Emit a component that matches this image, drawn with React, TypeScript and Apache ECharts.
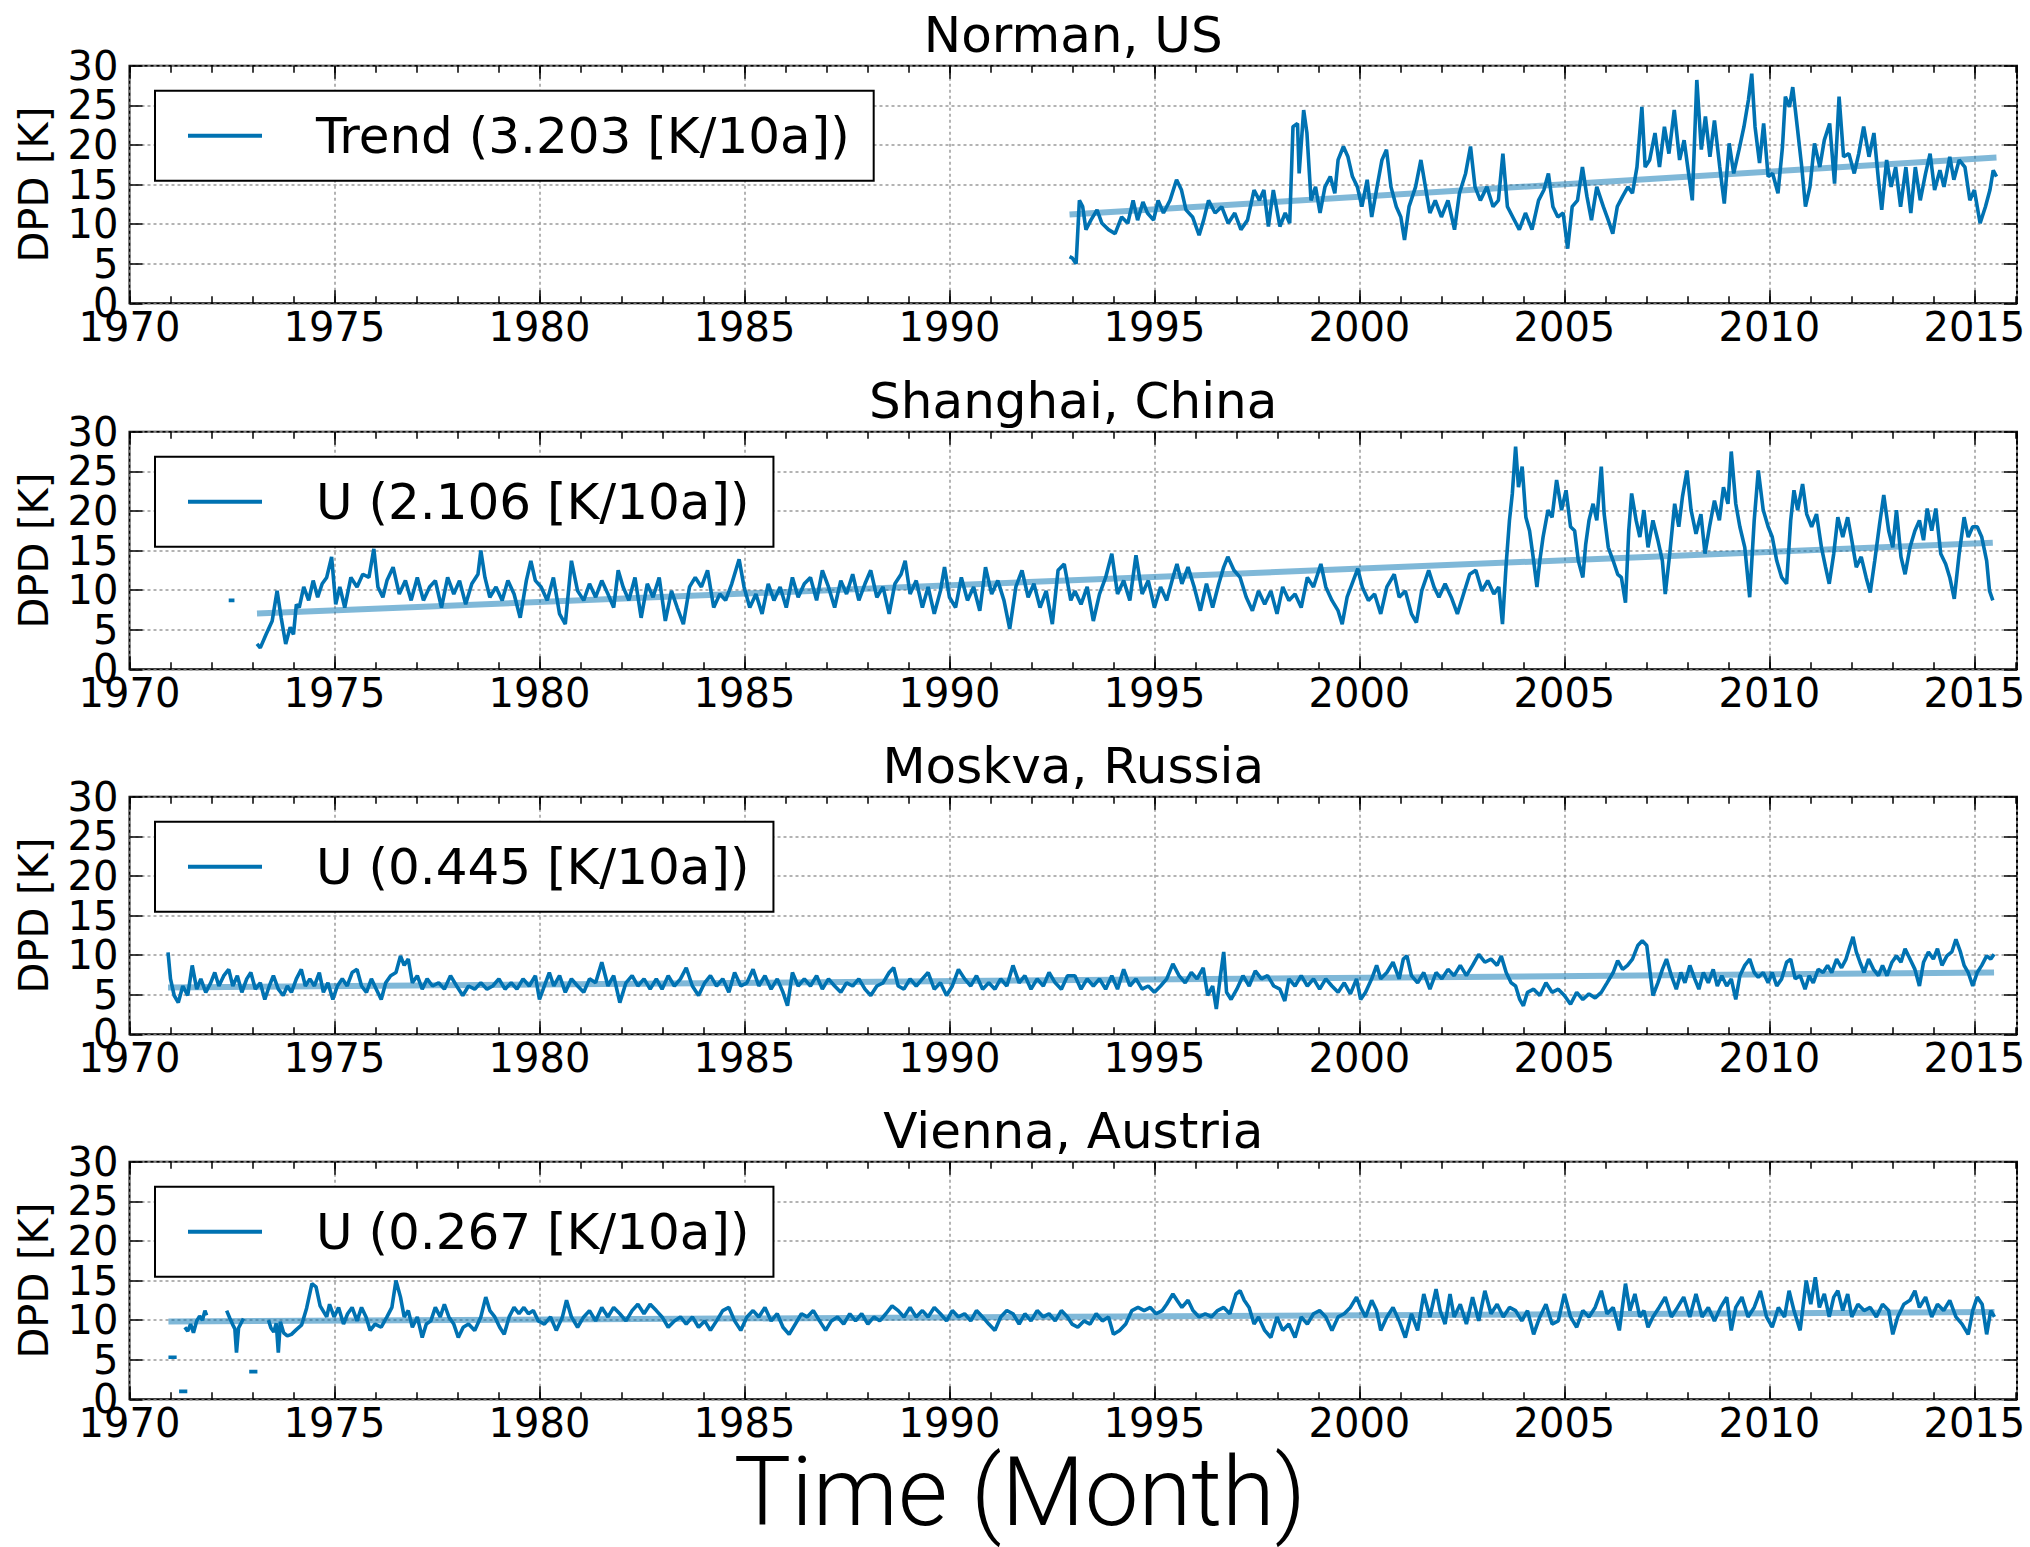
import React, { useEffect, useRef } from 'react';
import * as echarts from 'echarts';

type Pt = [number, number | null];

// ---------------- data (year, DPD [K]) ----------------
const stationTitles = ['Norman, US', 'Shanghai, China', 'Moskva, Russia', 'Vienna, Austria'];
const legendLabels = ['Trend (3.203 [K/10a])', 'U (2.106 [K/10a])', 'U (0.445 [K/10a])', 'U (0.267 [K/10a])'];
const xTickYears = [1970, 1975, 1980, 1985, 1990, 1995, 2000, 2005, 2010, 2015];
const yTickValues = [0, 5, 10, 15, 20, 25, 30];

const normanDPD: Pt[] = [
  [1992.93,5.9],[1993.0,5.7],[1993.09,5.0],[1993.17,13.0],[1993.25,12.2],[1993.33,9.3],[1993.45,10.5],[1993.6,11.8],[1993.72,10.1],[1993.88,9.3],[1994.04,8.8],[1994.2,10.9],[1994.35,10.1],[1994.48,13.0],[1994.59,10.5],[1994.72,12.8],[1994.83,11.4],[1994.98,10.5],[1995.09,13.0],[1995.22,11.4],[1995.38,13.0],[1995.54,15.6],[1995.66,14.3],[1995.77,11.8],[1995.93,10.9],[1996.09,8.6],[1996.2,10.5],[1996.32,13.0],[1996.48,11.4],[1996.64,12.2],[1996.8,10.1],[1996.96,11.4],[1997.11,9.3],[1997.27,10.5],[1997.43,14.3],[1997.56,13.0],[1997.67,14.3],[1997.78,9.7],[1997.9,14.3],[1998.06,9.7],[1998.19,11.4],[1998.3,10.1],[1998.38,22.3],[1998.49,22.7],[1998.53,16.4],[1998.64,24.4],[1998.72,21.5],[1998.82,13.0],[1998.93,14.7],[1999.04,11.4],[1999.16,14.7],[1999.29,16.0],[1999.4,13.9],[1999.48,18.1],[1999.61,19.8],[1999.72,18.5],[1999.83,16.0],[1999.95,14.7],[2000.06,12.2],[2000.19,15.6],[2000.3,10.9],[2000.43,14.7],[2000.55,18.1],[2000.66,19.4],[2000.77,14.7],[2000.9,12.2],[2001.01,10.9],[2001.1,8.0],[2001.21,12.2],[2001.37,14.7],[2001.5,18.1],[2001.61,14.7],[2001.72,11.4],[2001.85,13.0],[2002.0,10.9],[2002.16,13.0],[2002.32,9.3],[2002.44,13.9],[2002.59,16.4],[2002.71,19.8],[2002.82,14.7],[2002.95,13.0],[2003.11,14.7],[2003.26,12.2],[2003.39,13.0],[2003.5,18.9],[2003.61,12.2],[2003.74,10.9],[2003.9,9.3],[2004.05,11.4],[2004.21,9.3],[2004.37,13.0],[2004.5,14.3],[2004.61,16.4],[2004.72,12.2],[2004.84,10.9],[2004.97,11.4],[2005.08,6.9],[2005.19,12.2],[2005.32,13.0],[2005.44,17.2],[2005.55,13.5],[2005.66,10.5],[2005.79,14.7],[2005.95,12.2],[2006.07,10.5],[2006.18,8.8],[2006.29,12.2],[2006.42,13.5],[2006.55,14.7],[2006.66,13.9],[2006.77,17.2],[2006.89,24.8],[2006.97,17.2],[2007.08,18.1],[2007.21,21.5],[2007.32,17.2],[2007.44,22.3],[2007.55,18.9],[2007.68,24.4],[2007.81,18.1],[2007.92,20.6],[2008.03,16.4],[2008.12,13.0],[2008.23,28.2],[2008.34,19.4],[2008.44,23.6],[2008.55,18.5],[2008.66,23.1],[2008.79,17.2],[2008.9,12.6],[2009.02,20.2],[2009.13,16.4],[2009.26,19.4],[2009.38,22.3],[2009.49,25.7],[2009.57,29.0],[2009.65,22.3],[2009.76,17.7],[2009.86,22.7],[2009.97,16.0],[2010.08,16.4],[2010.21,13.9],[2010.32,19.8],[2010.39,26.1],[2010.49,24.8],[2010.57,27.3],[2010.68,22.3],[2010.79,17.2],[2010.88,12.2],[2010.99,14.7],[2011.1,20.2],[2011.23,17.2],[2011.34,20.6],[2011.47,22.7],[2011.59,15.1],[2011.7,26.1],[2011.81,18.5],[2011.94,18.9],[2012.07,16.4],[2012.18,18.9],[2012.3,22.3],[2012.43,18.5],[2012.55,21.5],[2012.66,15.6],[2012.74,11.8],[2012.86,18.1],[2012.97,14.7],[2013.08,17.2],[2013.2,12.2],[2013.33,17.2],[2013.45,11.4],[2013.56,17.2],[2013.68,13.0],[2013.81,16.4],[2013.92,18.9],[2014.03,14.3],[2014.16,16.8],[2014.26,14.7],[2014.4,18.5],[2014.5,15.6],[2014.63,18.1],[2014.77,17.2],[2014.89,13.0],[2015.0,14.3],[2015.14,10.1],[2015.27,12.2],[2015.38,14.3],[2015.46,16.8],[2015.54,16.0]
];
const normanTrend: Pt[] = [[1992.93, 11.2], [2015.54, 18.4]];

const shanghaiDPD: Pt[] = [
  [1972.42,8.7],[1972.56,8.7],[1972.6,null],
  [1973.11,3.2],[1973.19,2.7],[1973.33,4.4],[1973.48,6.1],[1973.6,9.9],[1973.7,6.5],[1973.81,3.2],[1973.92,5.3],[1974.0,4.4],[1974.07,8.2],[1974.14,7.8],[1974.25,10.4],[1974.37,8.7],[1974.48,11.2],[1974.59,9.1],[1974.7,10.8],[1974.81,11.6],[1974.93,14.2],[1975.03,8.2],[1975.13,10.4],[1975.25,7.8],[1975.4,11.6],[1975.55,10.4],[1975.69,12.0],[1975.84,11.6],[1975.96,15.2],[1976.06,10.4],[1976.18,9.1],[1976.28,11.2],[1976.43,12.9],[1976.58,9.5],[1976.73,11.2],[1976.87,8.7],[1977.02,11.6],[1977.17,8.7],[1977.32,10.4],[1977.46,11.2],[1977.61,7.8],[1977.76,11.6],[1977.91,9.5],[1978.05,11.2],[1978.2,8.2],[1978.35,10.8],[1978.5,12.0],[1978.57,15.0],[1978.67,11.6],[1978.79,9.1],[1978.94,10.4],[1979.09,8.7],[1979.23,11.2],[1979.38,9.5],[1979.53,6.5],[1979.68,11.2],[1979.79,13.7],[1979.9,11.2],[1980.04,10.4],[1980.19,8.7],[1980.34,11.6],[1980.49,7.0],[1980.63,5.7],[1980.78,13.7],[1980.93,9.9],[1981.08,8.7],[1981.22,10.8],[1981.37,9.1],[1981.52,11.2],[1981.67,9.5],[1981.81,7.8],[1981.92,12.5],[1982.04,10.4],[1982.18,8.7],[1982.33,11.6],[1982.48,6.5],[1982.63,10.8],[1982.77,9.1],[1982.92,11.6],[1983.07,6.1],[1983.22,9.9],[1983.36,7.8],[1983.51,5.7],[1983.66,10.4],[1983.8,11.6],[1983.95,10.4],[1984.1,12.5],[1984.25,7.8],[1984.4,9.5],[1984.54,8.7],[1984.69,10.8],[1984.87,13.9],[1984.99,10.4],[1985.13,7.8],[1985.28,9.5],[1985.43,7.0],[1985.58,10.8],[1985.72,8.7],[1985.87,10.4],[1986.02,7.8],[1986.17,11.6],[1986.31,9.1],[1986.46,10.8],[1986.61,11.6],[1986.76,8.7],[1986.9,12.5],[1987.05,10.4],[1987.2,7.8],[1987.35,11.2],[1987.49,9.5],[1987.64,12.0],[1987.79,8.7],[1987.94,10.8],[1988.08,12.5],[1988.23,9.1],[1988.38,10.4],[1988.53,7.0],[1988.67,10.8],[1988.82,12.0],[1988.92,13.7],[1989.04,9.5],[1989.19,11.2],[1989.34,7.8],[1989.48,10.4],[1989.63,7.0],[1989.78,9.9],[1989.88,12.9],[1990.0,9.1],[1990.15,7.8],[1990.29,11.6],[1990.44,8.7],[1990.59,10.4],[1990.74,7.4],[1990.88,12.9],[1991.03,9.5],[1991.18,11.2],[1991.33,8.7],[1991.47,5.1],[1991.62,10.4],[1991.77,12.5],[1991.92,9.1],[1992.06,10.8],[1992.21,7.8],[1992.36,9.9],[1992.51,5.7],[1992.65,12.5],[1992.8,13.3],
  [1992.96,8.7],[1993.06,9.9],[1993.21,8.2],[1993.36,10.4],[1993.51,6.1],[1993.66,9.5],[1993.81,11.6],[1993.96,14.6],[1994.1,9.5],[1994.25,11.2],[1994.4,8.7],[1994.55,14.4],[1994.7,9.5],[1994.85,11.2],[1995.0,7.8],[1995.15,10.4],[1995.3,8.7],[1995.45,11.6],[1995.55,13.3],[1995.67,10.8],[1995.82,12.9],[1995.97,10.4],[1996.12,7.4],[1996.27,10.8],[1996.42,7.8],[1996.57,10.8],[1996.69,12.9],[1996.79,14.2],[1996.94,12.5],[1997.09,11.6],[1997.24,9.1],[1997.39,7.4],[1997.54,9.9],[1997.69,8.2],[1997.84,9.9],[1997.99,7.0],[1998.13,10.4],[1998.28,8.7],[1998.43,9.5],[1998.58,7.8],[1998.73,11.6],[1998.88,10.4],[1999.06,13.3],[1999.18,10.4],[1999.33,8.7],[1999.48,7.4],[1999.58,5.7],[1999.7,9.1],[1999.85,11.2],[1999.96,12.7],[2000.07,10.4],[2000.22,8.7],[2000.37,9.5],[2000.52,7.0],[2000.67,10.4],[2000.85,12.0],[2000.97,9.1],[2001.12,9.9],[2001.27,7.0],[2001.39,5.9],[2001.52,9.9],[2001.69,12.5],[2001.82,10.4],[2001.94,9.1],[2002.09,10.8],[2002.24,9.1],[2002.39,7.0],[2002.54,9.5],[2002.69,12.0],[2002.84,12.5],[2002.99,9.9],[2003.13,11.2],[2003.28,9.5],[2003.4,10.4],[2003.49,5.7],[2003.58,13.3],[2003.66,18.8],[2003.73,22.2],[2003.81,28.1],[2003.88,23.0],[2003.97,25.6],[2004.06,19.2],[2004.15,17.5],[2004.25,13.7],[2004.33,10.4],[2004.4,13.7],[2004.48,16.7],[2004.6,20.1],[2004.7,19.2],[2004.81,23.9],[2004.93,20.1],[2005.04,22.6],[2005.15,18.0],[2005.25,17.5],[2005.34,13.7],[2005.45,11.6],[2005.52,15.8],[2005.6,18.8],[2005.7,20.9],[2005.79,18.8],[2005.9,25.6],[2005.97,19.6],[2006.07,15.4],[2006.19,13.7],[2006.3,12.0],[2006.39,11.6],[2006.49,8.4],[2006.57,17.5],[2006.64,22.2],[2006.75,18.8],[2006.84,16.7],[2006.94,20.1],[2007.04,15.4],[2007.16,18.8],[2007.28,16.3],[2007.39,13.7],[2007.46,9.5],[2007.57,14.6],[2007.69,20.9],[2007.79,18.0],[2007.88,21.8],[2007.99,25.1],[2008.09,20.1],[2008.21,17.1],[2008.33,19.6],[2008.43,14.6],[2008.54,18.0],[2008.66,21.3],[2008.78,18.8],[2008.88,23.0],[2008.99,20.9],[2009.07,27.5],[2009.18,20.9],[2009.28,18.0],[2009.4,15.4],[2009.52,9.1],[2009.63,18.8],[2009.73,25.1],[2009.85,20.1],[2009.97,18.0],[2010.07,16.7],[2010.18,13.7],[2010.3,11.6],[2010.42,10.8],[2010.52,18.8],[2010.6,22.6],[2010.69,20.1],[2010.81,23.4],[2010.91,19.6],[2011.03,18.0],[2011.15,19.6],[2011.27,15.4],[2011.37,12.9],[2011.46,10.8],[2011.57,14.6],[2011.67,19.2],[2011.79,16.7],[2011.91,19.2],[2012.01,16.3],[2012.12,12.9],[2012.24,14.2],[2012.36,11.6],[2012.46,9.7],[2012.57,13.7],[2012.69,18.4],[2012.79,22.0],[2012.91,17.5],[2013.01,15.4],[2013.1,20.1],[2013.21,14.2],[2013.31,12.0],[2013.43,15.4],[2013.55,17.5],[2013.66,18.8],[2013.76,16.3],[2013.85,20.3],[2013.96,17.5],[2014.06,20.3],[2014.18,14.6],[2014.3,13.3],[2014.4,11.6],[2014.51,8.9],[2014.63,14.6],[2014.75,19.2],[2014.85,16.7],[2014.96,18.0],[2015.07,18.0],[2015.18,16.7],[2015.3,13.7],[2015.37,9.9],[2015.45,8.7]
];
const shanghaiTrend: Pt[] = [[1973.11, 7.05], [2015.45, 15.97]];

const moskvaDPD: Pt[] = [
  [1970.94,10.35],[1971.0,7.0],[1971.09,4.9],[1971.19,4.0],[1971.3,6.1],[1971.42,4.9],[1971.53,8.7],[1971.64,5.7],[1971.74,7.0],[1971.86,5.3],[1971.98,6.5],[1972.08,7.8],[1972.18,6.1],[1972.3,7.4],[1972.42,8.2],[1972.52,6.1],[1972.63,7.4],[1972.74,5.3],[1972.86,7.0],[1972.96,7.8],[1973.07,5.7],[1973.19,6.5],[1973.3,4.4],[1973.41,6.1],[1973.51,7.4],[1973.63,5.7],[1973.75,4.9],[1973.85,6.1],[1973.95,5.3],[1974.07,7.0],[1974.19,8.2],[1974.29,6.1],[1974.4,7.0],[1974.51,6.1],[1974.63,7.8],[1974.73,5.3],[1974.84,6.5],[1974.96,4.4],[1975.07,6.1],[1975.19,7.0],[1975.31,6.1],[1975.43,7.8],[1975.55,8.2],[1975.66,6.1],[1975.78,5.3],[1975.9,7.0],[1976.02,5.7],[1976.14,4.4],[1976.25,6.5],[1976.37,7.4],[1976.5,7.8],[1976.61,9.9],[1976.7,8.7],[1976.8,9.5],[1976.9,6.5],[1977.02,7.4],[1977.14,5.7],[1977.26,7.0],[1977.39,6.1],[1977.54,6.5],[1977.68,5.7],[1977.83,7.4],[1977.98,6.1],[1978.13,4.9],[1978.27,6.1],[1978.42,5.7],[1978.57,6.5],[1978.72,5.7],[1978.86,6.1],[1979.01,7.0],[1979.16,5.7],[1979.31,6.5],[1979.45,5.7],[1979.6,7.0],[1979.75,6.1],[1979.9,7.4],[1980.0,4.4],[1980.12,6.1],[1980.24,7.8],[1980.35,6.1],[1980.49,7.4],[1980.63,5.3],[1980.78,7.0],[1980.93,6.1],[1981.08,5.3],[1981.22,7.0],[1981.37,6.5],[1981.52,9.1],[1981.67,6.1],[1981.81,7.4],[1981.96,4.0],[1982.11,6.5],[1982.26,7.4],[1982.4,6.1],[1982.55,7.0],[1982.7,5.7],[1982.85,7.0],[1982.99,5.7],[1983.14,7.4],[1983.29,6.1],[1983.44,7.0],[1983.58,8.4],[1983.73,6.1],[1983.88,4.9],[1984.03,6.5],[1984.17,7.4],[1984.32,6.1],[1984.47,7.0],[1984.62,5.3],[1984.76,7.8],[1984.91,6.1],[1985.06,6.5],[1985.21,8.2],[1985.35,6.1],[1985.5,7.4],[1985.65,5.7],[1985.8,7.0],[1985.94,5.3],[1986.05,3.6],[1986.17,7.8],[1986.31,6.1],[1986.46,7.0],[1986.61,6.1],[1986.76,7.4],[1986.9,5.7],[1987.05,7.0],[1987.2,6.1],[1987.35,5.3],[1987.49,6.5],[1987.64,6.1],[1987.79,7.0],[1987.94,5.7],[1988.08,4.9],[1988.23,6.1],[1988.38,6.5],[1988.53,7.8],[1988.64,8.4],[1988.75,6.1],[1988.89,5.7],[1989.04,7.0],[1989.19,6.1],[1989.34,7.0],[1989.48,7.8],[1989.63,5.7],[1989.78,6.5],[1989.93,4.9],[1990.07,6.1],[1990.22,8.2],[1990.37,7.0],[1990.52,6.1],[1990.66,7.4],[1990.81,5.7],[1990.96,6.5],[1991.11,5.7],[1991.25,7.0],[1991.4,6.1],[1991.55,8.7],[1991.7,6.5],[1991.84,7.4],[1991.99,5.7],[1992.14,7.0],[1992.29,6.1],[1992.43,7.8],[1992.58,6.5],[1992.73,5.7],[1992.88,7.4],
  [1993.06,7.4],[1993.21,5.7],[1993.36,7.0],[1993.51,6.1],[1993.66,7.0],[1993.81,5.7],[1993.96,7.4],[1994.1,5.7],[1994.25,8.2],[1994.4,6.1],[1994.55,7.0],[1994.7,5.7],[1994.85,6.1],[1995.0,5.3],[1995.15,6.1],[1995.3,7.0],[1995.45,8.9],[1995.6,7.4],[1995.75,6.5],[1995.9,7.8],[1996.04,7.0],[1996.19,8.4],[1996.3,4.9],[1996.42,6.1],[1996.51,3.2],[1996.6,7.0],[1996.69,10.4],[1996.76,5.3],[1996.87,4.4],[1997.01,5.7],[1997.16,7.4],[1997.31,6.1],[1997.46,8.0],[1997.61,7.0],[1997.76,7.4],[1997.91,6.1],[1998.06,5.7],[1998.18,4.2],[1998.28,7.0],[1998.43,6.1],[1998.58,7.4],[1998.73,6.1],[1998.88,7.0],[1999.03,5.7],[1999.18,7.0],[1999.33,6.1],[1999.48,5.3],[1999.63,6.5],[1999.78,5.1],[1999.93,7.0],[2000.03,4.4],[2000.15,5.3],[2000.3,7.0],[2000.42,8.7],[2000.52,7.0],[2000.67,7.8],[2000.82,9.1],[2000.97,7.0],[2001.07,9.5],[2001.16,9.9],[2001.27,7.4],[2001.42,6.5],[2001.57,7.8],[2001.72,5.7],[2001.87,7.8],[2002.01,7.0],[2002.16,8.2],[2002.31,7.4],[2002.46,8.7],[2002.61,7.4],[2002.76,8.7],[2002.91,10.1],[2003.06,9.1],[2003.21,9.5],[2003.36,8.7],[2003.46,9.9],[2003.58,7.8],[2003.7,6.5],[2003.81,6.1],[2003.91,4.4],[2004.0,3.6],[2004.1,5.3],[2004.25,5.7],[2004.4,4.9],[2004.55,6.5],[2004.7,5.3],[2004.85,5.7],[2005.0,4.9],[2005.15,3.8],[2005.3,5.3],[2005.45,4.4],[2005.6,5.1],[2005.75,4.6],[2005.9,5.3],[2006.04,6.5],[2006.19,7.8],[2006.3,9.3],[2006.42,8.2],[2006.54,8.7],[2006.66,9.5],[2006.79,11.2],[2006.9,11.8],[2007.01,11.2],[2007.09,7.8],[2007.16,4.9],[2007.28,6.5],[2007.39,8.2],[2007.49,9.5],[2007.61,7.4],[2007.73,5.7],[2007.84,7.8],[2007.94,6.5],[2008.06,8.7],[2008.18,7.0],[2008.28,5.7],[2008.39,7.8],[2008.51,6.5],[2008.63,8.2],[2008.73,6.1],[2008.84,7.4],[2008.96,6.1],[2009.07,7.0],[2009.18,4.4],[2009.28,7.4],[2009.4,8.7],[2009.52,9.5],[2009.63,7.8],[2009.73,7.2],[2009.85,7.8],[2009.97,6.5],[2010.07,7.8],[2010.18,6.1],[2010.3,7.0],[2010.42,9.1],[2010.52,9.5],[2010.63,7.0],[2010.75,7.4],[2010.87,5.7],[2010.97,7.4],[2011.07,6.5],[2011.19,8.2],[2011.31,7.8],[2011.42,8.7],[2011.52,7.8],[2011.64,9.5],[2011.76,8.4],[2011.87,9.5],[2011.97,11.2],[2012.04,12.3],[2012.12,10.4],[2012.21,9.1],[2012.31,7.8],[2012.42,9.5],[2012.54,8.2],[2012.66,7.4],[2012.76,8.7],[2012.87,7.4],[2012.99,9.1],[2013.1,9.9],[2013.21,9.1],[2013.31,10.8],[2013.43,9.5],[2013.55,8.2],[2013.66,6.1],[2013.76,9.1],[2013.88,10.4],[2014.0,9.5],[2014.1,10.8],[2014.21,8.7],[2014.33,9.9],[2014.45,10.4],[2014.55,12.0],[2014.66,10.4],[2014.75,8.7],[2014.85,7.8],[2014.96,6.1],[2015.07,7.8],[2015.18,8.7],[2015.3,9.9],[2015.4,9.5],[2015.48,10.1]
];
const moskvaTrend: Pt[] = [[1970.94, 5.9], [2015.48, 7.8]];

const viennaDPD: Pt[] = [
  [1970.95,5.3],[1971.15,5.3],[1971.18,null],
  [1971.21,1.0],[1971.41,1.0],[1971.43,null],
  [1971.35,9.1],[1971.42,8.6],[1971.49,9.5],[1971.56,8.4],[1971.64,9.9],[1971.71,10.5],[1971.78,10.0],[1971.84,11.2],[1971.88,10.6],[1971.9,null],
  [1972.37,11.2],[1972.45,10.2],[1972.52,9.4],[1972.57,8.9],[1972.61,5.9],[1972.66,9.0],[1972.72,9.6],[1972.78,10.2],[1972.8,null],
  [1972.92,3.5],[1973.12,3.5],[1973.14,null],
  [1973.39,10.0],[1973.45,9.0],[1973.52,8.5],[1973.58,9.6],[1973.63,5.9],[1973.68,9.8],[1973.76,8.4],[1973.85,8.0],[1973.95,8.2],[1974.07,8.8],[1974.2,9.4],[1974.32,11.5],[1974.45,14.6],[1974.55,14.2],[1974.65,11.8],[1974.81,10.4],[1974.88,12.0],[1974.99,10.4],[1975.1,11.6],[1975.22,9.5],[1975.32,10.8],[1975.43,11.6],[1975.55,9.9],[1975.66,11.6],[1975.77,10.4],[1975.87,8.7],[1975.99,9.5],[1976.14,9.1],[1976.28,10.4],[1976.4,11.6],[1976.5,15.0],[1976.61,12.9],[1976.7,10.4],[1976.8,11.2],[1976.9,9.1],[1977.02,10.4],[1977.14,7.8],[1977.24,9.5],[1977.35,9.9],[1977.46,11.6],[1977.58,10.4],[1977.68,12.0],[1977.79,10.4],[1977.91,9.5],[1978.02,7.8],[1978.14,9.1],[1978.27,9.5],[1978.42,8.7],[1978.57,10.4],[1978.69,12.9],[1978.79,11.2],[1978.91,10.4],[1979.03,9.1],[1979.14,8.2],[1979.26,10.4],[1979.38,11.6],[1979.5,10.8],[1979.62,11.6],[1979.73,10.8],[1979.85,11.2],[1979.97,9.9],[1980.12,9.5],[1980.27,10.4],[1980.41,8.7],[1980.56,10.4],[1980.66,12.5],[1980.78,10.4],[1980.93,9.1],[1981.08,10.4],[1981.22,11.2],[1981.37,9.9],[1981.52,11.6],[1981.67,10.4],[1981.81,11.6],[1981.96,10.8],[1982.11,9.9],[1982.26,11.2],[1982.4,12.0],[1982.55,10.8],[1982.7,12.0],[1982.85,11.2],[1982.99,10.4],[1983.14,9.1],[1983.29,9.9],[1983.44,10.4],[1983.58,9.5],[1983.73,10.4],[1983.88,9.1],[1984.03,9.9],[1984.17,8.7],[1984.32,9.9],[1984.47,11.2],[1984.62,11.6],[1984.76,9.9],[1984.91,8.7],[1985.06,10.4],[1985.21,11.2],[1985.35,10.4],[1985.5,11.6],[1985.65,9.9],[1985.8,10.8],[1985.94,9.1],[1986.09,8.2],[1986.24,9.5],[1986.39,10.8],[1986.53,10.4],[1986.68,11.2],[1986.83,9.9],[1986.98,8.7],[1987.12,9.9],[1987.27,10.4],[1987.42,9.5],[1987.57,10.8],[1987.71,9.9],[1987.86,10.8],[1988.01,9.5],[1988.16,10.4],[1988.3,9.9],[1988.45,10.8],[1988.6,11.8],[1988.75,11.2],[1988.89,10.4],[1989.04,11.6],[1989.19,10.4],[1989.34,11.2],[1989.48,10.4],[1989.63,11.6],[1989.78,10.8],[1989.93,9.9],[1990.07,11.2],[1990.22,10.4],[1990.37,10.8],[1990.52,9.9],[1990.66,11.2],[1990.81,10.4],[1990.96,9.5],[1991.11,8.7],[1991.25,10.4],[1991.4,11.2],[1991.55,10.8],[1991.7,9.5],[1991.84,10.8],[1991.99,9.9],[1992.14,11.2],[1992.29,10.4],[1992.43,10.8],[1992.58,9.9],[1992.73,11.2],[1992.88,10.4],
  [1992.99,9.5],[1993.13,9.1],[1993.28,9.9],[1993.43,9.5],[1993.58,10.8],[1993.73,9.9],[1993.88,10.4],[1994.0,8.2],[1994.15,8.7],[1994.3,9.5],[1994.45,11.2],[1994.6,11.6],[1994.75,11.2],[1994.9,11.6],[1995.04,10.8],[1995.19,11.2],[1995.3,12.0],[1995.45,13.3],[1995.55,12.5],[1995.67,11.6],[1995.82,12.5],[1995.94,11.2],[1996.09,10.4],[1996.24,10.8],[1996.39,10.4],[1996.54,11.2],[1996.69,11.6],[1996.84,10.8],[1996.99,13.3],[1997.09,13.7],[1997.19,12.5],[1997.31,11.6],[1997.43,9.5],[1997.54,10.4],[1997.69,8.7],[1997.84,7.8],[1997.99,10.4],[1998.13,8.7],[1998.28,9.5],[1998.43,7.8],[1998.58,10.4],[1998.73,9.5],[1998.88,10.8],[1999.03,11.2],[1999.18,10.4],[1999.33,8.7],[1999.48,10.4],[1999.63,10.8],[1999.78,11.6],[1999.93,12.9],[2000.03,11.6],[2000.15,10.4],[2000.3,12.5],[2000.42,11.2],[2000.52,8.7],[2000.67,10.4],[2000.82,11.6],[2000.97,9.9],[2001.12,7.8],[2001.27,10.8],[2001.42,8.7],[2001.57,13.3],[2001.72,10.4],[2001.87,13.9],[2001.97,11.2],[2002.09,9.5],[2002.21,13.3],[2002.31,10.4],[2002.46,12.0],[2002.61,9.5],[2002.76,12.9],[2002.91,9.9],[2003.06,13.7],[2003.21,10.8],[2003.36,12.0],[2003.51,10.4],[2003.66,11.6],[2003.81,11.2],[2003.96,9.9],[2004.1,11.2],[2004.25,8.2],[2004.4,10.4],[2004.55,12.0],[2004.7,9.5],[2004.85,9.9],[2005.0,13.3],[2005.15,10.4],[2005.3,9.1],[2005.45,11.2],[2005.6,10.4],[2005.75,11.6],[2005.9,13.7],[2006.04,10.8],[2006.19,11.6],[2006.34,8.7],[2006.49,14.6],[2006.6,11.2],[2006.72,13.3],[2006.84,10.4],[2006.94,11.2],[2007.04,9.1],[2007.16,10.4],[2007.31,11.6],[2007.46,12.9],[2007.61,10.4],[2007.76,11.6],[2007.91,12.9],[2008.06,10.4],[2008.21,13.3],[2008.36,10.4],[2008.51,11.6],[2008.66,9.9],[2008.81,11.6],[2008.96,12.9],[2009.07,8.7],[2009.18,11.6],[2009.33,12.9],[2009.48,10.4],[2009.63,11.6],[2009.78,13.7],[2009.93,10.4],[2010.07,9.1],[2010.22,11.6],[2010.37,10.4],[2010.48,13.7],[2010.6,11.2],[2010.75,8.7],[2010.9,15.0],[2011.01,12.0],[2011.12,15.4],[2011.22,11.6],[2011.34,13.3],[2011.46,10.4],[2011.57,12.9],[2011.67,13.7],[2011.79,11.2],[2011.91,13.3],[2012.01,10.4],[2012.16,12.0],[2012.31,11.2],[2012.46,11.6],[2012.61,10.4],[2012.76,12.0],[2012.91,11.2],[2013.01,8.2],[2013.13,10.4],[2013.28,12.0],[2013.43,12.5],[2013.55,13.7],[2013.66,11.6],[2013.81,12.9],[2013.96,10.4],[2014.1,12.0],[2014.25,11.2],[2014.4,12.5],[2014.55,10.4],[2014.7,9.5],[2014.85,8.2],[2014.96,11.2],[2015.07,12.9],[2015.19,12.0],[2015.3,8.2],[2015.4,11.2],[2015.49,10.4]
];
const viennaTrend: Pt[] = [[1970.95, 9.83], [2015.49, 11.02]];

const stationSeries: Pt[][] = [normanDPD, shanghaiDPD, moskvaDPD, viennaDPD];
const stationTrends: Pt[][] = [normanTrend, shanghaiTrend, moskvaTrend, viennaTrend];

// ---------------- layout / style ----------------
const FONT = "'DejaVu Sans', 'Liberation Sans', sans-serif";
const BLUE = '#0072B2';
const TREND = 'rgba(0,114,178,0.5)';
const PANEL_TOPS = [65.7, 431.7, 796.7, 1161.7];
const PANEL_H = 237.6;
const GRID_LEFT = 129.5;
const GRID_RIGHT = 13;
const X_MIN = xTickYears[0];
const X_MAX = 2016.04;
const Y_MIN = yTickValues[0];
const Y_MAX = yTickValues[yTickValues.length - 1];

const toData = (pts: Pt[]) => pts.map(([x, y]) => [x, y === null ? '-' : y]);

function buildOption(): any {
  const grid: any[] = [];
  const xAxis: any[] = [];
  const yAxis: any[] = [];
  const series: any[] = [];
  const legend: any[] = [];
  const graphic: any[] = [];
  const tickLine = { color: '#000', width: 1.5 };
  const gridLine = { color: '#9a9a9a', width: 1.5, type: [3, 3] };
  const yLabelBase = { fontSize: 40, lineHeight: 30, fontFamily: FONT, color: '#000', margin: 11, hideOverlap: false };

  PANEL_TOPS.forEach((top, i) => {
    grid.push({
      left: GRID_LEFT, right: GRID_RIGHT, top, height: PANEL_H,
      show: true, borderColor: '#000', borderWidth: 2, backgroundColor: 'transparent',
    });
    const xBase = {
      type: 'value', gridIndex: i, min: X_MIN, max: X_MAX,
      axisLine: { show: false, onZero: false },
      splitLine: { show: false }, axisLabel: { show: false },
    };
    // major bottom (labels + grid)
    xAxis.push({
      ...xBase, position: 'bottom', interval: 5,
      axisTick: { show: true, inside: true, length: 13, lineStyle: tickLine },
      axisLabel: {
        show: true, fontSize: 40, lineHeight: 30, fontFamily: FONT, color: '#000', margin: 9,
        showMaxLabel: false, showMinLabel: true, hideOverlap: false,
        formatter: (v: number) => (xTickYears.indexOf(v) >= 0 ? String(v) : ''),
      },
      splitLine: { show: true, lineStyle: gridLine },
    });
    // minor bottom
    xAxis.push({ ...xBase, position: 'bottom', interval: 1,
      axisTick: { show: true, inside: true, length: 7, lineStyle: tickLine } });
    // major top
    xAxis.push({ ...xBase, position: 'top', interval: 5,
      axisTick: { show: true, inside: true, length: 13, lineStyle: tickLine } });
    // minor top
    xAxis.push({ ...xBase, position: 'top', interval: 1,
      axisTick: { show: true, inside: true, length: 7, lineStyle: tickLine } });

    // left axis A: ticks, grid lines, labels 0/10/20/30, name
    yAxis.push({
      type: 'value', gridIndex: i, position: 'left', min: Y_MIN, max: Y_MAX, interval: 5,
      axisLine: { show: false, onZero: false },
      axisTick: { show: true, inside: true, length: 13, lineStyle: tickLine },
      axisLabel: {
        ...yLabelBase, showMinLabel: true, showMaxLabel: true,
        formatter: (v: number) => (yTickValues.indexOf(v) >= 0 && v % 10 === 0 ? String(v) : ''),
      },
      splitLine: { show: true, lineStyle: gridLine },
      name: 'DPD [K]', nameLocation: 'middle', nameRotate: 90, nameGap: 76,
      nameTextStyle: { fontSize: 40, fontFamily: FONT, color: '#000' },
    });
    // left axis B: labels 5/15/25
    yAxis.push({
      type: 'value', gridIndex: i, position: 'left', min: Y_MIN, max: Y_MAX, interval: 5,
      axisLine: { show: false, onZero: false }, axisTick: { show: false }, splitLine: { show: false },
      axisLabel: {
        ...yLabelBase, showMinLabel: false, showMaxLabel: false,
        formatter: (v: number) => (yTickValues.indexOf(v) >= 0 && v % 10 === 5 ? String(v) : ''),
      },
    });
    // right axis: ticks only
    yAxis.push({
      type: 'value', gridIndex: i, position: 'right', min: Y_MIN, max: Y_MAX, interval: 5,
      axisLine: { show: false, onZero: false },
      axisTick: { show: true, inside: true, length: 13, lineStyle: tickLine },
      axisLabel: { show: false }, splitLine: { show: false },
    });

    series.push({
      type: 'line', name: legendLabels[i], xAxisIndex: i * 4, yAxisIndex: i * 3,
      data: toData(stationSeries[i]), showSymbol: false, symbol: 'none',
      connectNulls: false, lineStyle: { width: 3.6, color: BLUE }, itemStyle: { color: BLUE },
      z: 2, silent: true,
    });
    series.push({
      type: 'line', name: 'trend-' + i, xAxisIndex: i * 4, yAxisIndex: i * 3,
      data: toData(stationTrends[i]), showSymbol: false, symbol: 'none',
      lineStyle: { width: 6, color: TREND }, itemStyle: { color: TREND },
      z: 3, silent: true,
    });

    legend.push({
      show: true, data: [legendLabels[i]], left: 155, top: top + 25,
      orient: 'horizontal', icon: 'rect', itemWidth: 74, itemHeight: 4,
      borderColor: '#000', borderWidth: 2, borderRadius: 0, backgroundColor: '#fff',
      padding: [20, 24, 20, 33], selectedMode: false,
      textStyle: { fontSize: 50, fontFamily: FONT, color: '#000', lineHeight: 50, padding: [0, 0, 0, 49] },
      z: 10,
    });

    graphic.push({
      type: 'text', x: GRID_LEFT + (2030 - GRID_RIGHT - GRID_LEFT) / 2, y: top - 31,
      style: { text: stationTitles[i], fontSize: 50, fontFamily: FONT, fill: '#000', align: 'center', verticalAlign: 'middle' },
    });
  });

  graphic.push({
    type: 'text', x: 1020, y: 1492,
    style: {
      text: 'Time (Month)', fontSize: 96, lineHeight: 96, fontWeight: 300,
      fontFamily: "Roboto, 'Liberation Sans', sans-serif", fill: '#000', align: 'center', verticalAlign: 'middle',
    },
  });

  return {
    animation: false,
    backgroundColor: '#fff',
    grid, xAxis, yAxis, series, legend, graphic,
  };
}

export default function App() {
  const ref = useRef<HTMLDivElement>(null);
  useEffect(() => {
    if (!ref.current) return;
    const chart = echarts.init(ref.current, undefined, { renderer: 'svg' });
    chart.setOption(buildOption());
    return () => chart.dispose();
  }, []);
  return (
    <div
      ref={ref}
      style={{ position: 'fixed', left: 0, top: 0, width: 2030, height: 1547, background: '#fff' }}
    />
  );
}
